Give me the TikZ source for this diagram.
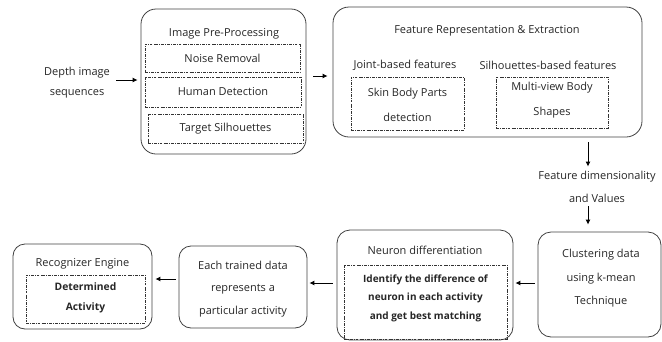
\documentclass[tikz,border=0pt]{standalone}
\usepackage{fontspec}
\setmainfont{Open Sans}
\usetikzlibrary{arrows.meta,calc}
\begin{document}
\begin{tikzpicture}[x=1pt,y=-1pt,
  txt/.style={font=\fontsize{11}{20}\selectfont, inner sep=0pt, align=center, text=black!85},
  rbox/.style={draw=black!75, line width=0.8pt, rounded corners=#1, inner sep=0pt},
  dbox/.style={draw=black!80, line width=0.6pt, dash pattern=on 2.8pt off 1.2pt on 0.6pt off 1.2pt, inner sep=0pt},
  arr/.style={-{Latex[length=5pt,width=5pt]}, line width=0.9pt, black}
]
\useasboundingbox (0,0) rectangle (662,341);

% Depth image sequences
\node[txt, font=\fontsize{11}{20}\selectfont] (depth) at (77,83) {Depth image\\sequences};

% Image Pre-Processing
\node[rbox=15pt, minimum width=165pt, minimum height=145pt] (pre) at (223.5,81.5) {};
\node[txt] (pretitle) at (224,34) {Image Pre-Processing};
\node[dbox, minimum width=155pt, minimum height=28pt] (noise) at (222.5,58) {};
\node[txt] (noiset) at (noise.center) {Noise Removal};
\node[dbox, minimum width=156pt, minimum height=30pt] (human) at (223,92) {};
\node[txt] (humant) at (human.center) {Human Detection};
\node[dbox, minimum width=155pt, minimum height=29pt] (target) at (225.5,128.5) {};
\node[txt] (targett) at (target.center) {Target Silhouettes};

% Feature Representation & Extraction
\node[rbox=16pt, minimum width=309pt, minimum height=130pt] (feat) at (487.5,72) {};
\node[txt] (feattitle) at (487,31) {Feature Representation \& Extraction};
\node[txt] (joint) at (405,65) {Joint-based features};
\node[txt] (silh) at (548,65) {Silhouettes-based features};
\node[dbox, minimum width=113pt, minimum height=53pt] (skin) at (407.5,103.5) {};
\node[txt, font=\fontsize{11}{25}\selectfont] (skint) at (407.5,104.5) {Skin Body Parts\\detection};
\node[dbox, minimum width=112pt, minimum height=51pt] (multi) at (552,102.5) {};
\node[txt, font=\fontsize{11}{25}\selectfont] (multit) at (552,100.5) {Multi-view Body\\Shapes};

% Feature dimensionality
\node[txt, font=\fontsize{11}{23}\selectfont] (fdim) at (597,186.5) {Feature dimensionality\\and Values};

% Clustering
\node[rbox=13pt, minimum width=123pt, minimum height=105pt] (clus) at (599.5,284.5) {};
\node[txt, font=\fontsize{11}{23.5}\selectfont] (clust) at (601,278.5) {Clustering data\\using k-mean\\Technique};

% Neuron differentiation
\node[rbox=13pt, minimum width=176pt, minimum height=110pt] (neur) at (425,285) {};
\node[txt] (neurtitle) at (425,250) {Neuron differentiation};
\node[dbox, minimum width=163pt, minimum height=74pt] (ident) at (425.5,302) {};
\node[txt, font=\fontsize{10}{18.5}\selectfont\bfseries] (identt) at (425.5,298) {Identify the difference of\\neuron in each activity\\and get best matching};

% Each trained data
\node[rbox=12pt, minimum width=128pt, minimum height=82pt] (each) at (243,287) {};
\node[txt, font=\fontsize{11}{22.5}\selectfont] (eacht) at (243,289) {Each trained data\\represents a\\particular activity};

% Recognizer Engine
\node[rbox=12pt, minimum width=139pt, minimum height=85pt] (recog) at (82.5,286.5) {};
\node[txt] (recogtitle) at (82.5,264) {Recognizer Engine};
\node[dbox, minimum width=119pt, minimum height=48pt] (det) at (85.5,299) {};
\node[txt, font=\fontsize{10.3}{20}\selectfont\bfseries] (dett) at (85.5,298) {Determined\\Activity};

% Connectors
\draw[arr, shorten <=6pt, shorten >=3pt] ([yshift=3pt]depth.east) -- ([yshift=3pt]depth.east -| pre.west);
\draw[arr, shorten <=7pt, shorten >=5pt] ([yshift=5.5pt]pre.east) -- ([yshift=5.5pt]pre.east -| feat.west);
\draw[arr, shorten <=5pt, shorten >=4pt] ([xshift=100.5pt]feat.south) -- ([xshift=100.5pt]feat.south |- fdim.north);
\draw[arr, shorten <=4pt, shorten >=7pt] ([xshift=-11.5pt]clus.north |- fdim.south) -- ([xshift=-11.5pt]clus.north);
\draw[arr, shorten <=3pt, shorten >=2pt] ([yshift=1.5pt]clus.west) -- ([yshift=1.5pt]clus.west -| neur.east);
\draw[arr, shorten <=4pt, shorten >=2pt] ([yshift=2pt]neur.west) -- ([yshift=2pt]neur.west -| each.east);
\draw[arr, shorten <=3pt, shorten >=3pt] ([yshift=8pt]each.west) -- ([yshift=8pt]each.west -| recog.east);
\end{tikzpicture}
\end{document}
